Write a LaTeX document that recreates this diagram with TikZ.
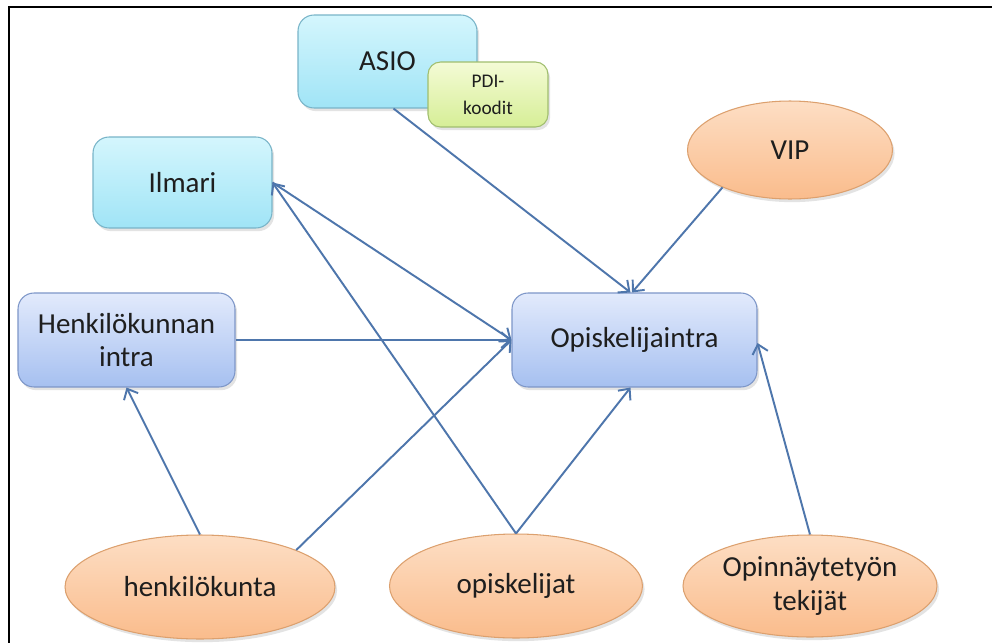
\documentclass[tikz,border=0pt]{standalone}
\usepackage{fontspec}
\setmainfont{Carlito}
\usetikzlibrary{arrows.meta,shapes.geometric,shadows}
\definecolor{linec}{RGB}{78,118,172}
\definecolor{txt}{RGB}{30,30,30}
\definecolor{cyanT}{RGB}{212,246,253}
\definecolor{cyanB}{RGB}{160,228,246}
\definecolor{cyanD}{RGB}{120,180,200}
\definecolor{blueT}{RGB}{226,234,252}
\definecolor{blueB}{RGB}{166,192,240}
\definecolor{blueD}{RGB}{125,150,200}
\definecolor{oraT}{RGB}{253,222,196}
\definecolor{oraB}{RGB}{250,188,140}
\definecolor{oraD}{RGB}{220,160,110}
\definecolor{grnT}{RGB}{244,251,214}
\definecolor{grnB}{RGB}{214,238,150}
\definecolor{grnD}{RGB}{160,190,110}
\tikzset{
  base/.style={text=txt,font=\fontsize{16.5}{19}\selectfont,align=center,inner sep=0pt,
    drop shadow={opacity=0.22,shadow xshift=1.2pt,shadow yshift=-1.8pt}},
  cyanbox/.style={base,rectangle,rounded corners=0.32cm,draw=cyanD,line width=0.6pt,top color=cyanT,bottom color=cyanB},
  bluebox/.style={base,rectangle,rounded corners=0.32cm,draw=blueD,line width=0.6pt,top color=blueT,bottom color=blueB},
  grnbox/.style={base,rectangle,rounded corners=0.25cm,draw=grnD,line width=0.6pt,top color=grnT,bottom color=grnB,font=\fontsize{11}{15.5}\selectfont},
  oraell/.style={base,ellipse,draw=oraD,line width=0.6pt,top color=oraT,bottom color=oraB},
  conn/.style={draw=linec,line width=1.1pt,-{Straight Barb[length=5pt,width=9pt,line width=1.1pt]}},
  frame/.style={draw=black,line width=1.2pt}
}
\begin{document}
\begin{tikzpicture}[x=0.02cm,y=-0.02cm]
\useasboundingbox (0,0) rectangle (992,643);
\fill[white] (0,0) rectangle (992,643);
\coordinate (fTL) at (9,7);
\coordinate (fTR) at (992,7);
\coordinate (fBL) at (9,643);
\draw[frame] (fTR) -- (fTL) -- (fBL);

\node[cyanbox,minimum width=3.58cm,minimum height=1.86cm] (asio) at (387.5,61.5) {ASIO};
\node[grnbox,minimum width=2.4cm,minimum height=1.3cm] (pdi) at (488,94.5) {PDI-\\koodit};
\node[cyanbox,minimum width=3.58cm,minimum height=1.82cm] (ilmari) at (182.5,182.5) {Ilmari};
\node[bluebox,minimum width=4.34cm,minimum height=1.88cm] (hint) at (126.5,340) {Henkilökunnan\\intra};
\node[bluebox,minimum width=4.9cm,minimum height=1.88cm] (oint) at (634.5,340) {Opiskelijaintra};
\node[oraell,minimum width=4.1cm,minimum height=1.96cm] (vip) at (790,150) {VIP};
\node[oraell,minimum width=5.4cm,minimum height=2.08cm] (hk) at (200,587) {henkilökunta};
\node[oraell,minimum width=5.06cm,minimum height=2.08cm] (opk) at (516,586) {opiskelijat};
\node[oraell,minimum width=5.08cm,minimum height=2.04cm] (opn) at (810,586) {Opinnäytetyön\\tekijät};

\draw[conn] ([xshift=0.12cm]asio.south) -- ([xshift=-0.08cm]oint.north);
\draw[conn] (vip.209) -- ([xshift=-0.05cm]oint.north);
\draw[conn] (ilmari.east) -- (oint.west);
\draw[conn] (hint.east) -- (oint.west);
\draw[conn] (hk.21) -- (oint.west);
\draw[conn] (hk.north) -- (hint.south);
\draw[conn] (opk.north) -- ([xshift=-0.08cm]oint.south);
\draw[conn] (opk.north) -- (ilmari.east);
\draw[conn] (opn.north) -- ([yshift=-0.06cm]oint.east);
\end{tikzpicture}
\end{document}
